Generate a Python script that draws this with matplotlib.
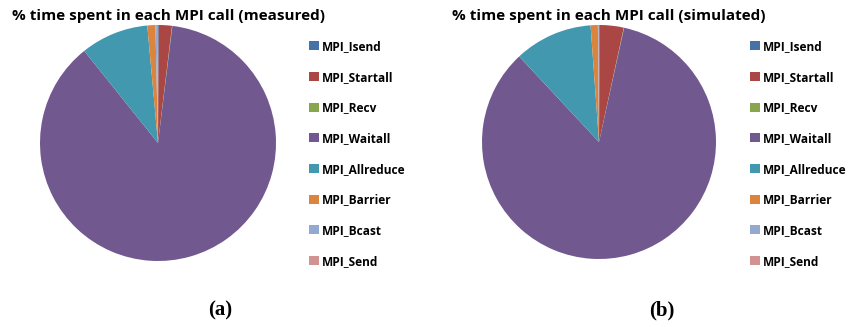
import numpy as np
import matplotlib
matplotlib.use("Agg")
import matplotlib.pyplot as plt
from matplotlib.patches import Patch

labels = ["MPI_Isend", "MPI_Startall", "MPI_Recv", "MPI_Waitall",
          "MPI_Allreduce", "MPI_Barrier", "MPI_Bcast", "MPI_Send"]
measured = [0.1, 1.8, 0.05, 87.3, 9.3, 1.1, 0.2, 0.15]
simulated = [0.1, 3.3, 0.05, 84.6, 10.8, 1.0, 0.1, 0.05]
colors = ["#4672A8", "#AA4644", "#89A54E", "#71588F",
          "#4198AF", "#DB843D", "#93A9CF", "#D19392"]

W, H = 849, 327
fig = plt.figure(figsize=(W / 100, H / 100), dpi=100)

def px_axes(cx, cy, r):
    return fig.add_axes([(cx - r) / W, (H - cy - r) / H, 2 * r / W, 2 * r / H])

panels = [
    (measured, "% time spent in each MPI call (measured)", 158, 143, 118, 12, 309, "(a)", 220),
    (simulated, "% time spent in each MPI call (simulated)", 599, 142, 117, 452, 750, "(b)", 662),
]

for vals, title, cx, cy, r, tx, lx, cap, capx in panels:
    ax = px_axes(cx, cy, r)
    ax.pie(vals, colors=colors, startangle=90, counterclock=False, radius=1,
           wedgeprops=dict(linewidth=0))
    ax.set_xlim(-1, 1)
    ax.set_ylim(-1, 1)
    ax.set_aspect("equal")
    ax.axis("off")
    fig.text(tx / W, 1 - 16 / H, title, fontsize=11, fontweight="bold",
             family="Open Sans", va="center", ha="left")
    handles = [Patch(facecolor=c, edgecolor="none") for c in colors]
    fig.legend(handles, labels, loc="upper left",
               bbox_to_anchor=(lx / W, 1 - 40 / H), frameon=False,
               prop=dict(family="Open Sans", weight="bold", size=8.6),
               handlelength=0.8, handleheight=0.8, handletextpad=0.3,
               labelspacing=1.48, borderaxespad=0, borderpad=0)
    fig.text(capx / W, 1 - 310 / H, cap, fontsize=15, fontweight="bold",
             family="Liberation Serif", va="center", ha="center")

fig.savefig("out.png", dpi=100)
